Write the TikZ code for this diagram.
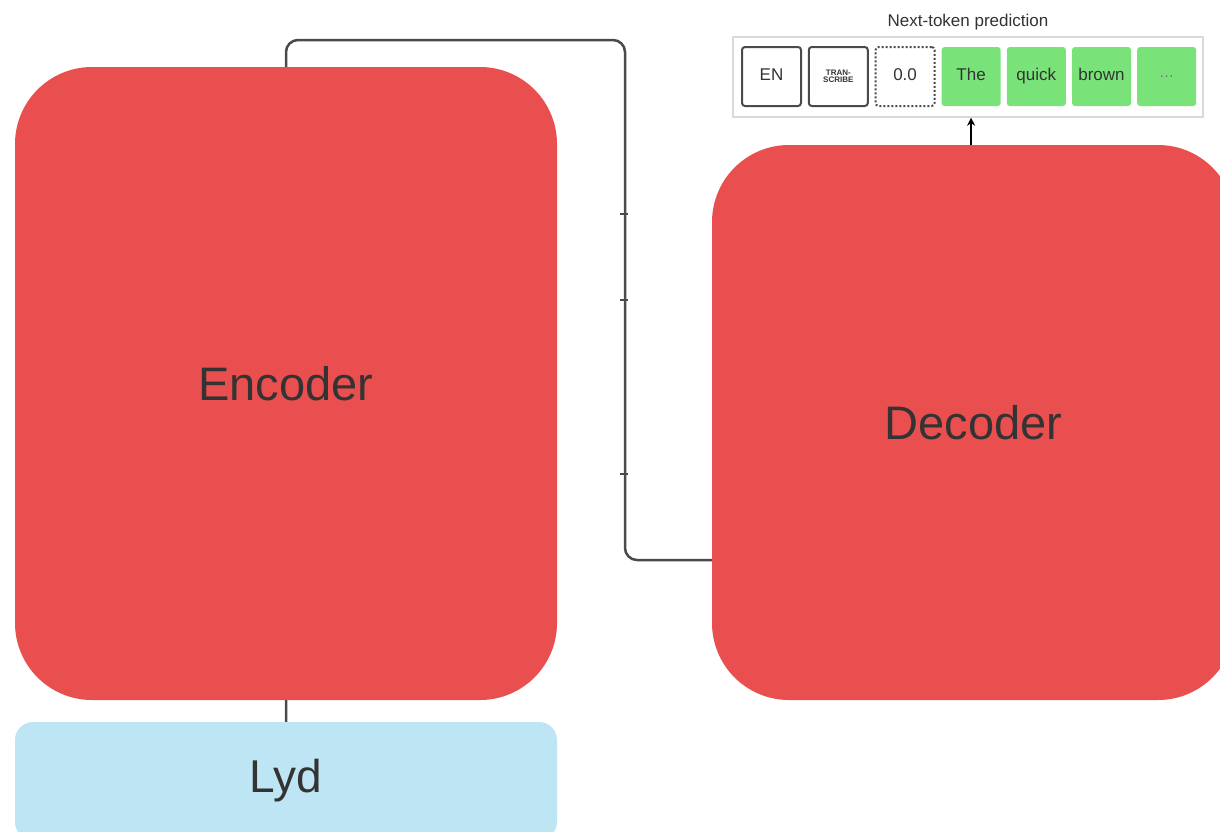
\documentclass[tikz,border=0pt]{standalone}
\usepackage{fontspec}
\setmainfont{Liberation Sans}
\usetikzlibrary{positioning,backgrounds,arrows.meta}
\definecolor{blockred}{HTML}{E94F4F}
\definecolor{soundblue}{HTML}{BDE5F4}
\definecolor{tokgreen}{HTML}{79E279}
\definecolor{inkgray}{HTML}{333333}
\definecolor{wiregray}{HTML}{4A4A4A}
\definecolor{stripgray}{HTML}{DADADA}
\tikzset{
  block/.style={fill=blockred,rounded corners=77pt,inner sep=0pt,text=inkgray,font=\fontsize{47}{56}\selectfont},
  tokbox/.style={minimum width=59pt,minimum height=59pt,inner sep=0pt,rounded corners=3pt,align=center,text=inkgray,text height=12pt,text depth=4pt,font=\fontsize{17}{20}\selectfont},
  spectok/.style={tokbox,draw=wiregray,line width=2pt,fill=white},
  predtok/.style={tokbox,fill=tokgreen},
  wire/.style={draw=wiregray,line width=2.5pt}
}

\begin{document}
\begin{tikzpicture}[x=1pt,y=-1pt,node distance=5.8pt]
\useasboundingbox (0,0) rectangle (1220,831);
% main blocks
\node[block,minimum width=542pt,minimum height=633pt] (enc) at (286,383.5) {Encoder};
\node[block,minimum width=523pt,minimum height=555pt] (dec) at (973.5,422.5) {Decoder};
\node[fill=soundblue,rounded corners=18pt,minimum width=542pt,minimum height=118pt,inner sep=0pt,text=inkgray,font=\fontsize{46}{56}\selectfont] (lyd) at (286,781) {Lyd};

% token strip
\node[draw=stripgray,line width=1.5pt,minimum width=470pt,minimum height=80pt] (strip) at (968,77) {};
\node[above=3pt of strip,text=inkgray,font=\fontsize{17}{20}\selectfont] (title) {Next-token prediction};
\node[spectok] (en) at (771.5,76.5) {EN};
\node[spectok,right=of en,text height={},text depth={},font=\bfseries\fontsize{8}{7}\selectfont] (trans) {TRAN-\\SCRIBE};
\node[spectok,right=of trans,dash pattern=on 2pt off 2pt] (time) {0.0};
\node[predtok,right=of time] (the) {The};
\node[predtok,right=of the] (quick) {quick};
\node[predtok,right=of quick] (brown) {brown};
\node[predtok,right=of brown,text=wiregray!80] (more) {\fontsize{14}{14}\selectfont ···};

\draw[line width=2pt,-{Stealth[length=8pt,width=8pt]}] (dec.north -| the) -- (the |- strip.south);

\coordinate (turn) at (625,40);
\coordinate (lvl) at (0,560);
\begin{scope}[on background layer]
\fill[white] (0,0) rectangle (1220,831);
\draw[wire,rounded corners=12pt] (lyd.north) |- (turn) |- (dec.west |- lvl);
\foreach \ty in {214,300,474}
  \draw[wiregray,line width=1.5pt] (620,\ty) -- (628,\ty);
\end{scope}
\end{tikzpicture}
\end{document}
